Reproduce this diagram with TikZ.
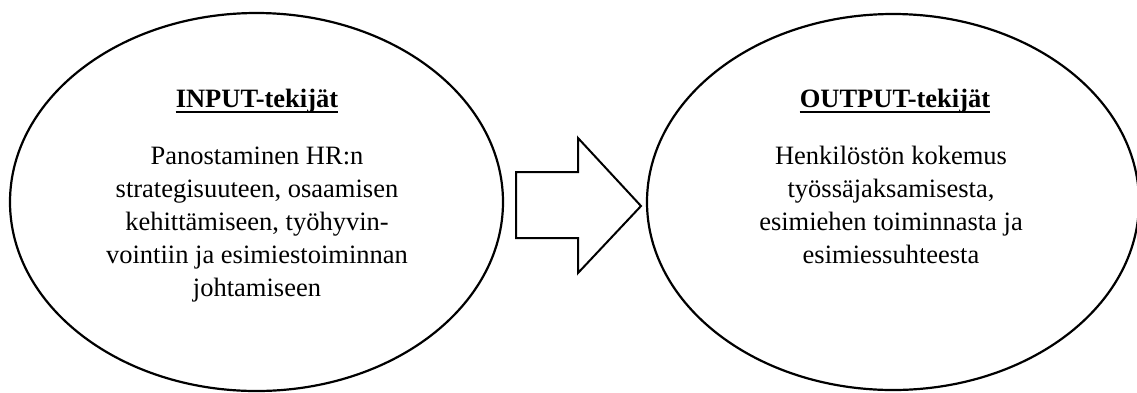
\documentclass[tikz,border=0pt]{standalone}
\usepackage{fontspec}
\setmainfont{Liberation Serif}
\begin{document}
\begin{tikzpicture}[x=1pt,y=-1pt,
  factor/.style={draw=black,line width=2.2pt},
  heading/.style={inner sep=0pt,anchor=base,font=\bfseries\fontsize{26.5}{30}\selectfont},
  bodytext/.style={inner sep=0pt,anchor=base,align=center,font=\fontsize{26.5}{33}\selectfont},
  bigarrow/.style={draw=black,line width=2pt,line join=miter,fill=white}]
\useasboundingbox (0,0) rectangle (1137,392);

% the two groups of factors
\draw[factor] (256.5,202) ellipse [x radius=246.5pt, y radius=189pt];
\draw[factor] (893,202) ellipse [x radius=246pt, y radius=188pt];

% headings with their underlines
\node[heading] (inhead) at (257,107) {INPUT-tekijät};
\node[heading] (outhead) at (895,107) {OUTPUT-tekijät};
\draw[line width=2.2pt] ([yshift=-5pt]inhead.base west) -- ([yshift=-5pt]inhead.base east);
\draw[line width=2.2pt] ([yshift=-5pt]outhead.base west) -- ([yshift=-5pt]outhead.base east);

% descriptions (base anchor sits on the last line)
\node[bodytext] (intext) at (257,296) {Panostaminen HR:n\\strategisuuteen, osaamisen\\kehittämiseen, työhyvin-\\vointiin ja esimiestoiminnan\\johtamiseen};
\node[bodytext] (outtext) at (891,263) {Henkilöstön kokemus\\työssäjaksamisesta,\\esimiehen toiminnasta ja\\esimiessuhteesta};

% block arrow from input to output
\draw[bigarrow] (516,172) -- (578,172) -- (578,138) -- (641,206) -- (578,273) -- (578,238) -- (516,238) -- cycle;
\end{tikzpicture}
\end{document}
